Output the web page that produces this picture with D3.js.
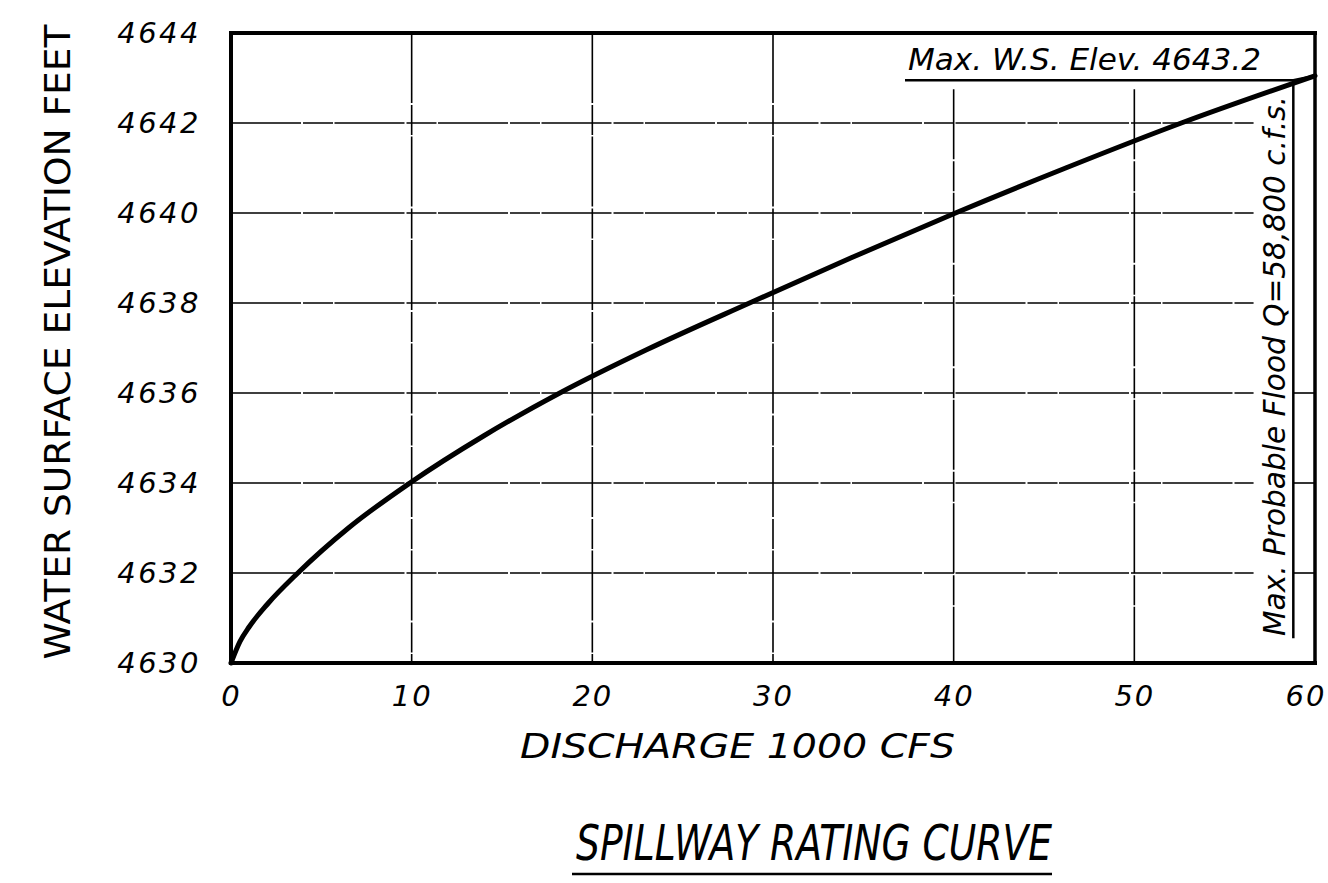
<!DOCTYPE html>
<html>
<head>
<meta charset="utf-8">
<script src="https://cdn.jsdelivr.net/npm/d3@7"></script>
<style>
  html, body { margin: 0; padding: 0; background: #fff; }
  svg { display: block; }
  text { fill: #000; }
</style>
</head>
<body>
<svg id="chart" width="1328" height="883"></svg>
<script>
// Spillway rating curve: discharge (1000 cfs) vs water surface elevation (ft)
const dischargeK = [0, 0.5, 1, 2, 3.7, 6.5, 9.9, 14, 18.2, 23, 28.7, 34.3, 40.1, 46.2, 52.6, 60];
const elevationFt = [4630, 4630.48, 4630.8, 4631.3, 4632, 4633.0, 4634, 4635.05, 4636, 4636.96, 4638, 4639.0, 4640, 4641.0, 4642, 4643.05];

const xTickValues = [0, 10, 20, 30, 40, 50, 60];
const yTickValues = [4630, 4632, 4634, 4636, 4638, 4640, 4642, 4644];

const maxWsElev = 4643.2;       // annotated maximum water surface elevation
const maxFloodQ = 58.8;         // maximum probable flood, 1000 cfs

const titleText = "SPILLWAY RATING CURVE";
const xTitleText = "DISCHARGE 1000 CFS";
const yTitleText = "WATER SURFACE ELEVATION FEET";
const wsLabel = "Max. W.S. Elev. 4643.2";
const floodLabel = "Max. Probable Flood Q=58,800 c.f.s.";

const svg = d3.select("#chart");
const plotLeft = 231, plotRight = 1315, plotTop = 33, plotBottom = 663;

const x = d3.scaleLinear().domain([0, 60]).range([plotLeft, plotRight]);
const y = d3.scaleLinear().domain([4630, 4644]).range([plotBottom, plotTop]);

const font = "'DejaVu Sans', sans-serif";
const ink = "#000";

// grid lines (hand-ruled, slightly broken)
const grid = svg.append("g").attr("stroke", ink).attr("stroke-width", 1.6)
  .attr("stroke-dasharray", "70,2,30,1.5").attr("fill", "none");

const labelBoxBottom = y(4642.95);
xTickValues.filter(v => v > 0 && v < 60).forEach(v => {
  const y0 = (x(v) > 880) ? y(4642.75) : plotTop;
  grid.append("line").attr("x1", x(v)).attr("x2", x(v)).attr("y1", y0).attr("y2", plotBottom);
});
yTickValues.filter(v => v > 4630 && v < 4644).forEach(v => {
  grid.append("line").attr("x1", plotLeft).attr("x2", x(56.6)).attr("y1", y(v)).attr("y2", y(v));
  if (v <= 4636) {
    grid.append("line").attr("x1", x(maxFloodQ)).attr("x2", plotRight).attr("y1", y(v)).attr("y2", y(v))
      .attr("stroke-dasharray", null);
  }
});

// frame
const frame = svg.append("g").attr("stroke", ink).attr("fill", "none").attr("stroke-linecap", "square");
frame.append("line").attr("x1", plotLeft).attr("x2", plotRight).attr("y1", plotTop).attr("y2", plotTop).attr("stroke-width", 4);
frame.append("line").attr("x1", plotLeft).attr("x2", plotRight).attr("y1", plotBottom).attr("y2", plotBottom).attr("stroke-width", 4);
frame.append("line").attr("x1", plotLeft).attr("x2", plotLeft).attr("y1", plotTop).attr("y2", plotBottom).attr("stroke-width", 4);
frame.append("line").attr("x1", plotRight).attr("x2", plotRight).attr("y1", plotTop).attr("y2", plotBottom).attr("stroke-width", 3.5);

// leader under the rotated flood label
frame.append("line").attr("x1", x(maxFloodQ)).attr("x2", x(maxFloodQ))
  .attr("y1", labelBoxBottom).attr("y2", y(4630.55)).attr("stroke-width", 2.5).attr("stroke-linecap", "butt");

// underline of the max elevation label, running to the curve end
const last = dischargeK.length - 1;
frame.append("path")
  .attr("d", d3.line()([[905, labelBoxBottom], [x(maxFloodQ), labelBoxBottom], [x(dischargeK[last]), y(elevationFt[last])]]))
  .attr("stroke-width", 2.5).attr("stroke-linecap", "butt");

// rating curve
svg.append("path")
  .datum(dischargeK.map((q, i) => [q, elevationFt[i]]))
  .attr("fill", "none").attr("stroke", ink).attr("stroke-width", 5)
  .attr("stroke-linecap", "round").attr("stroke-linejoin", "round")
  .attr("d", d3.line().x(d => x(d[0])).y(d => y(d[1])).curve(d3.curveMonotoneX));

// axes: tick labels only
const xAxis = svg.append("g").attr("transform", `translate(0,${plotBottom})`)
  .call(d3.axisBottom(x).tickValues(xTickValues).tickSize(0).tickPadding(22).tickFormat(d3.format("d")));
xAxis.select(".domain").remove();
xAxis.selectAll("text").attr("font-family", font).attr("font-style", "italic")
  .attr("font-size", 29).attr("letter-spacing", 2).attr("fill", ink);
// the last label sits against the page edge
xAxis.selectAll(".tick").filter(d => d === 60).select("text")
  .attr("text-anchor", "end").attr("x", 1326 - plotRight);

const yAxis = svg.append("g").attr("transform", `translate(${plotLeft},0)`)
  .call(d3.axisLeft(y).tickValues(yTickValues).tickSize(0).tickPadding(30).tickFormat(d3.format("d")));
yAxis.select(".domain").remove();
yAxis.selectAll("text").attr("font-family", font).attr("font-style", "italic")
  .attr("font-size", 29).attr("letter-spacing", 2.5).attr("fill", ink);

// axis titles
svg.append("text")
  .attr("x", 520).attr("y", 758)
  .attr("textLength", 435).attr("lengthAdjust", "spacingAndGlyphs")
  .attr("font-family", font).attr("font-style", "italic").attr("font-size", 33)
  .text(xTitleText);

svg.append("text")
  .attr("transform", "translate(70,342) rotate(-90)")
  .attr("text-anchor", "middle")
  .attr("textLength", 635).attr("lengthAdjust", "spacingAndGlyphs")
  .attr("font-family", font).attr("font-size", 36)
  .text(yTitleText);

// annotations
svg.append("text")
  .attr("x", 908).attr("y", 70)
  .attr("textLength", 353).attr("lengthAdjust", "spacingAndGlyphs")
  .attr("font-family", font).attr("font-style", "italic").attr("font-size", 30)
  .text(wsLabel);

svg.append("text")
  .attr("transform", `translate(${x(maxFloodQ) - 8},${y(4630.6)}) rotate(-90)`)
  .attr("textLength", 540).attr("lengthAdjust", "spacingAndGlyphs")
  .attr("font-family", font).attr("font-style", "italic").attr("font-size", 30)
  .text(floodLabel);

// chart title with underline
svg.append("text")
  .attr("x", 576).attr("y", 860)
  .attr("textLength", 476).attr("lengthAdjust", "spacingAndGlyphs")
  .attr("font-family", font).attr("font-style", "italic").attr("font-size", 50)
  .text(titleText);
svg.append("line").attr("x1", 572).attr("x2", 1052).attr("y1", 874).attr("y2", 874)
  .attr("stroke", ink).attr("stroke-width", 2.5);
</script>
</body>
</html>
